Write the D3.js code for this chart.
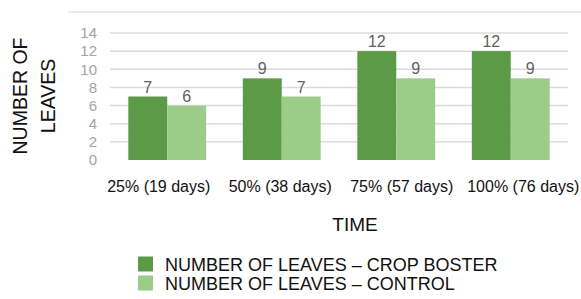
<!DOCTYPE html>
<html>
<head>
<meta charset="utf-8">
<script src="https://cdn.jsdelivr.net/npm/d3@7"></script>
<style>
  html, body { margin: 0; padding: 0; background: #ffffff; }
  svg { display: block; }
  text { font-family: "Liberation Sans", Arial, sans-serif; }
</style>
</head>
<body>
<svg id="chart" width="581" height="299"></svg>
<script>
// ---- data ----
const categories = ["25% (19 days)", "50% (38 days)", "75% (57 days)", "100% (76 days)"];
const cropBoster = [7, 9, 12, 12];
const control = [6, 7, 9, 9];
const seriesNames = ["NUMBER OF LEAVES \u2013 CROP BOSTER", "NUMBER OF LEAVES \u2013 CONTROL"];
const yTicks = [0, 2, 4, 6, 8, 10, 12, 14];
const yTitleLines = ["NUMBER OF", "LEAVES"];
const xTitle = "TIME";

const colors = ["#5b9a47", "#9bcd89"];

const svg = d3.select("#chart");

const plot = { left: 110, right: 568, top: 33, bottom: 160 };

const x0 = d3.scaleBand().domain(categories)
  .range([plot.left, plot.right]).paddingInner(0.32).paddingOuter(0.16);
const x1 = d3.scaleBand().domain([0, 1]).range([0, x0.bandwidth()]);
const y = d3.scaleLinear().domain([0, 14]).range([plot.bottom, plot.top]);
const xLabel = d3.scaleBand().domain(categories).range([98, 584]);

// faint top border
svg.append("line")
  .attr("x1", 68).attr("x2", 581).attr("y1", 12).attr("y2", 12)
  .attr("stroke", "#ececec").attr("stroke-width", 2);

// gridlines
svg.append("g").selectAll("line").data(yTicks.filter(d => d > 0)).join("line")
  .attr("x1", plot.left).attr("x2", plot.right)
  .attr("y1", d => y(d)).attr("y2", d => y(d))
  .attr("stroke", "#dcdcdc").attr("stroke-width", 1.5);

// y axis labels
const yAxis = svg.append("g").attr("transform", `translate(${plot.left},0)`)
  .call(d3.axisLeft(y).tickValues(yTicks).tickSize(0).tickPadding(13));
yAxis.select(".domain").remove();
yAxis.selectAll("text")
  .attr("fill", "#a3a3a3").style("font-size", "15px")
  .style("font-family", "\"Liberation Sans\", Arial, sans-serif");

// bars
const series = [cropBoster, control];
const groups = svg.append("g").selectAll("g").data(categories).join("g")
  .attr("transform", d => `translate(${x0(d)},0)`);

groups.selectAll("rect").data((d, i) => series.map((s, k) => ({ k, v: s[i] }))).join("rect")
  .attr("x", d => x1(d.k))
  .attr("width", x1.bandwidth())
  .attr("y", d => y(d.v))
  .attr("height", d => y(0) - y(d.v))
  .attr("fill", d => colors[d.k]);

groups.selectAll("text.val").data((d, i) => series.map((s, k) => ({ k, v: s[i] }))).join("text")
  .attr("class", "val")
  .attr("x", d => x1(d.k) + x1.bandwidth() / 2)
  .attr("y", d => y(d.v) - 4)
  .attr("text-anchor", "middle")
  .attr("fill", "#606060")
  .style("font-size", "16px")
  .text(d => d.v);

// x category labels
svg.append("g").selectAll("text").data(categories).join("text")
  .attr("x", d => xLabel(d) + xLabel.bandwidth() / 2)
  .attr("y", 192)
  .attr("text-anchor", "middle")
  .attr("fill", "#111111")
  .style("font-size", "16px")
  .text(d => d);

// x title
svg.append("text")
  .attr("x", 355).attr("y", 231)
  .attr("text-anchor", "middle")
  .attr("fill", "#111111")
  .style("font-size", "19px")
  .text(xTitle);

// y title
const yt = svg.append("text")
  .attr("transform", "translate(27,96) rotate(-90)")
  .attr("text-anchor", "middle")
  .attr("fill", "#111111")
  .style("font-size", "19.5px");
yt.selectAll("tspan").data(yTitleLines).join("tspan")
  .attr("x", 0)
  .attr("dy", (d, i) => i === 0 ? 0 : 28)
  .text(d => d);

// legend
const legend = svg.append("g").selectAll("g").data(seriesNames).join("g")
  .attr("transform", (d, i) => `translate(138,${256.5 + i * 19})`);
legend.append("rect")
  .attr("width", 15).attr("height", 15)
  .attr("fill", (d, i) => colors[i]);
legend.append("text")
  .attr("x", 27).attr("y", 14.5)
  .attr("fill", "#111111")
  .style("font-size", "18px")
  .text(d => d);
</script>
</body>
</html>
